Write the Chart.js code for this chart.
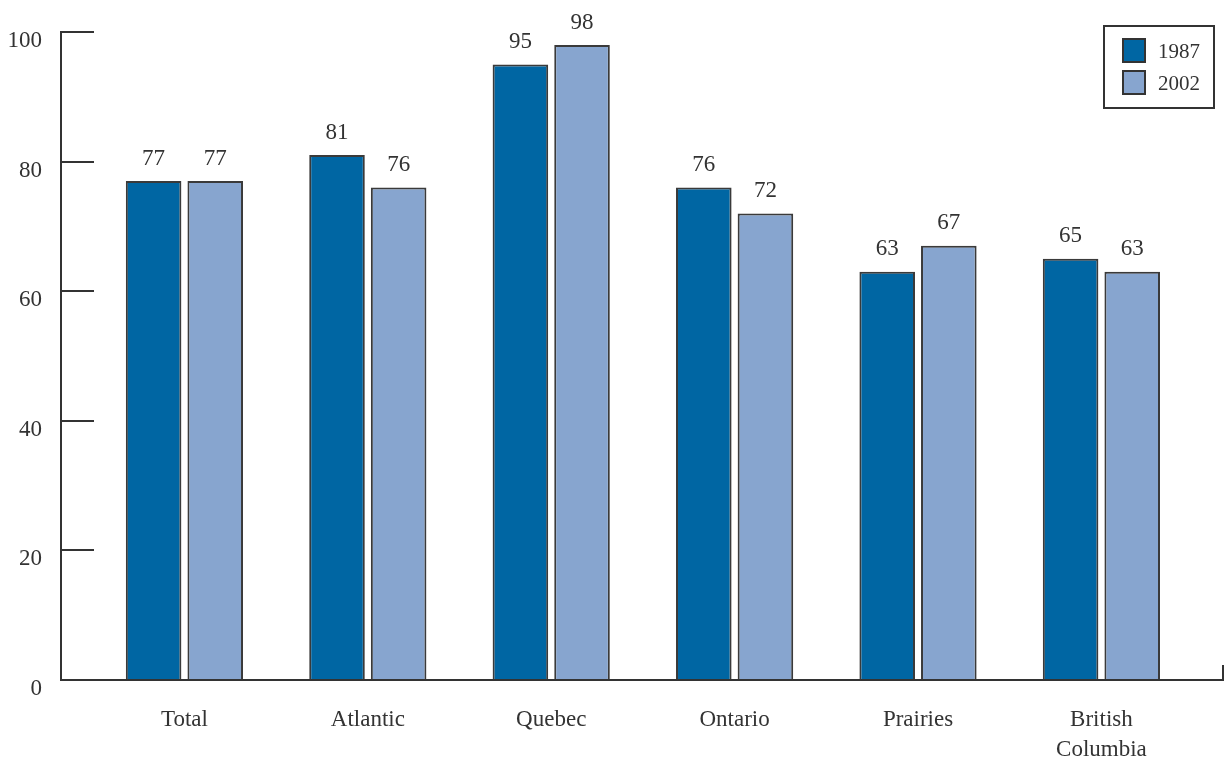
<!DOCTYPE html>
<html>
<head>
<meta charset="utf-8">
<script src="https://cdn.jsdelivr.net/npm/chart.js@4"></script>
<style>
  body { margin: 0; background: #fff; }
</style>
</head>
<body>
<canvas id="regionChart" width="1225" height="765"></canvas>
<script>
const regions = ['Total', 'Atlantic', 'Quebec', 'Ontario', 'Prairies', ['British', 'Columbia']];
const values1987 = [77, 81, 95, 76, 63, 65];
const values2002 = [77, 76, 98, 72, 67, 63];
const yTicks = [0, 20, 40, 60, 80, 100];

const serif = '"Liberation Serif", "Times New Roman", serif';
const ink = '#333';
const X_MIN = -0.673, X_MAX = 5.663;
// bar ruler uses the smallest tick gap (5 -> X_MAX), so scale the percentage up
const CAT_PCT = 0.672 / (X_MAX - 5);

// numbers above each bar
const barValues = {
  id: 'barValues',
  afterDatasetsDraw(chart) {
    const ctx = chart.ctx;
    ctx.save();
    ctx.font = '23px ' + serif;
    ctx.fillStyle = ink;
    ctx.textAlign = 'center';
    ctx.textBaseline = 'bottom';
    chart.data.datasets.forEach((ds, i) => {
      chart.getDatasetMeta(i).data.forEach((bar, j) => {
        ctx.fillText(String(ds.data[j].y), bar.x, bar.y - 11);
      });
    });
    ctx.restore();
  }
};

// boxed legend in the top right corner
const boxLegend = {
  id: 'boxLegend',
  afterDraw(chart) {
    const ctx = chart.ctx;
    const left = 1104, top = 26;
    ctx.save();
    ctx.strokeStyle = ink;
    ctx.lineWidth = 2;
    ctx.strokeRect(left, top, 110, 82);
    ctx.font = '21px ' + serif;
    ctx.textBaseline = 'middle';
    chart.data.datasets.forEach((ds, i) => {
      const y = top + 13 + i * 32;
      ctx.fillStyle = ds.backgroundColor;
      ctx.fillRect(left + 19, y, 22, 23);
      ctx.strokeRect(left + 19, y, 22, 23);
      ctx.fillStyle = ink;
      ctx.fillText(ds.label, left + 54, y + 13);
    });
    ctx.restore();
  }
};

const toPoints = arr => arr.map((v, i) => ({ x: i, y: v }));

new Chart(document.getElementById('regionChart'), {
  type: 'bar',
  data: {
    datasets: [
      {
        label: '1987',
        data: toPoints(values1987),
        backgroundColor: '#0066a3',
        borderColor: '#3a3a3a',
        borderWidth: 2,
        borderSkipped: 'bottom',
        categoryPercentage: CAT_PCT,
        barPercentage: 0.902
      },
      {
        label: '2002',
        data: toPoints(values2002),
        backgroundColor: '#87a5cf',
        borderColor: '#3a3a3a',
        borderWidth: 2,
        borderSkipped: 'bottom',
        categoryPercentage: CAT_PCT,
        barPercentage: 0.902
      }
    ]
  },
  options: {
    responsive: false,
    animation: false,
    devicePixelRatio: 1,
    layout: { padding: { top: 32, right: 2, left: 0, bottom: 0 } },
    plugins: {
      legend: { display: false },
      tooltip: { enabled: false }
    },
    scales: {
      x: {
        type: 'linear',
        min: X_MIN,
        max: X_MAX,
        offset: false,
        afterBuildTicks: s => {
          s.ticks = [0, 1, 2, 3, 4, 5, X_MAX].map(v => ({ value: v }));
        },
        afterFit: s => {
          s.height = 85;
          s.paddingLeft = 0;
          s.paddingRight = 0;
        },
        border: { color: ink, width: 2 },
        grid: {
          offset: false,
          drawOnChartArea: false,
          tickLength: -15,
          lineWidth: 2,
          color: c => (c.tick && c.tick.value === X_MAX ? ink : 'rgba(0,0,0,0)')
        },
        ticks: {
          autoSkip: false,
          maxRotation: 0,
          padding: 40,
          color: ink,
          font: { family: serif, size: 23, lineHeight: 1.3 },
          callback: v => (Number.isInteger(v) && regions[v] !== undefined ? regions[v] : '')
        }
      },
      y: {
        min: 0,
        max: 100,
        afterBuildTicks: s => { s.ticks = yTicks.map(v => ({ value: v })); },
        afterFit: s => {
          s.width = 61;
          s.paddingTop = 0;
          s.paddingBottom = 0;
        },
        border: { color: ink, width: 2 },
        grid: {
          drawOnChartArea: false,
          tickLength: -33,
          lineWidth: 2,
          color: ink
        },
        ticks: {
          padding: 52,
          labelOffset: 9,
          color: ink,
          font: { family: serif, size: 23 }
        }
      }
    }
  },
  plugins: [barValues, boxLegend]
});
</script>
</body>
</html>
